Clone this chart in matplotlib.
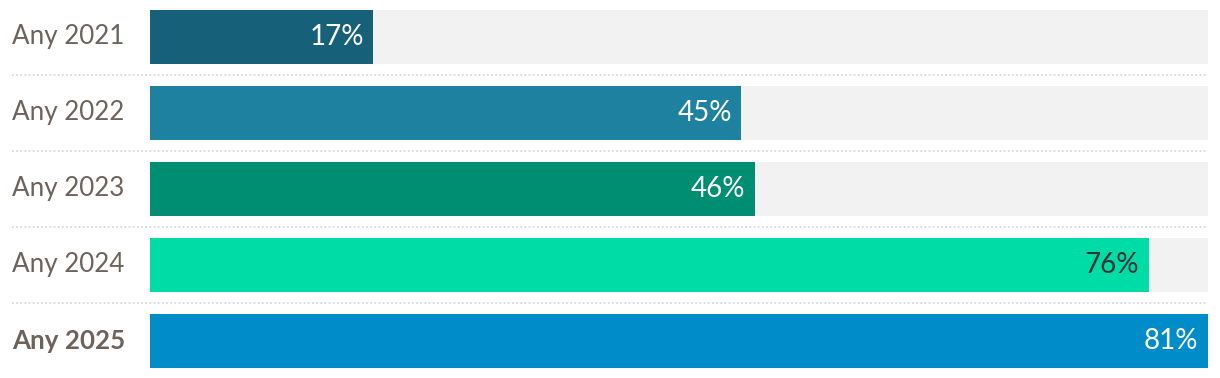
import matplotlib.pyplot as plt
from matplotlib.transforms import blended_transform_factory

# Data
years = ["Any 2021", "Any 2022", "Any 2023", "Any 2024", "Any 2025"]
values = [17, 45, 46, 76, 81]
colors = ["#17607a", "#1f81a0", "#008e72", "#00dca6", "#008bc9"]
label_colors = ["white", "white", "white", "#333333", "white"]

W, H = 1220, 378
fig = plt.figure(figsize=(W / 100, H / 100), dpi=100)
ax = fig.add_axes([150 / W, 0, 1058 / W, 1])

scale_max = 80.5
pitch = 76
top = -37 / pitch
ax.set_ylim(top + H / pitch, top)
ax.set_xlim(0, scale_max)
ax.axis("off")

ypos = list(range(len(years)))
bh = 54 / pitch
# background track
ax.barh(ypos, [scale_max] * len(years), height=bh, color="#f2f2f2", zorder=1)
ax.barh(ypos, values, height=bh, color=colors, zorder=2)

for y, v, c in zip(ypos, values, label_colors):
    ax.annotate(f"{v}%", (min(v, scale_max), y), xytext=(-7, 0),
                textcoords="offset points", ha="right", va="center",
                color=c, fontsize=20, family="Lato", zorder=3)

# category labels and dotted separators
trans = blended_transform_factory(fig.transFigure, ax.transData)
for i, name in enumerate(years):
    last = i == len(years) - 1
    fig.text(12 / W, i, name, transform=trans, ha="left", va="center",
             fontsize=18.7, family="Lato", color="#6e635a",
             fontweight="bold" if last else "normal")
    if not last:
        ax.plot([12 / W, 1208 / W], [i + 0.5, i + 0.5], transform=trans,
                color="#d4d4d4", linestyle=(0, (1, 1.5)), linewidth=1.2,
                clip_on=False)

fig.savefig("out.png", dpi=100)
